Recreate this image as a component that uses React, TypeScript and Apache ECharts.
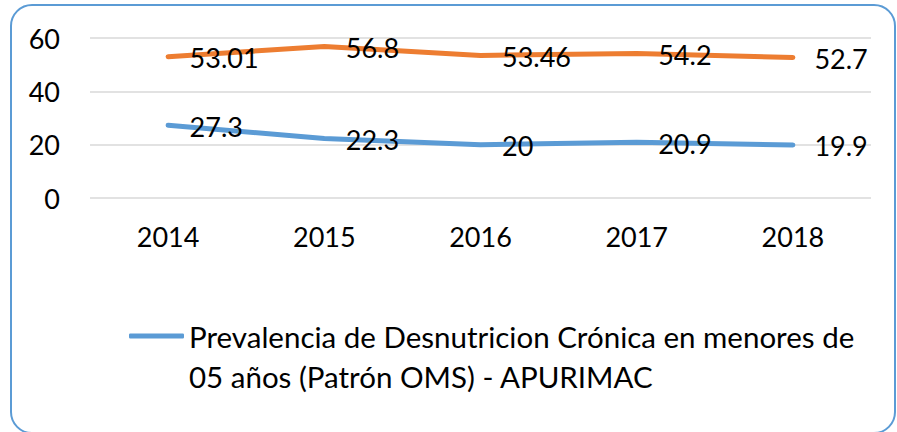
import React, { useEffect, useRef } from "react";
import * as echarts from "echarts";

const years = ["2014", "2015", "2016", "2017", "2018"];
const blueName = "Prevalencia de Desnutricion Crónica en menores de 05 años (Patrón OMS) - APURIMAC";
const blueValues = [27.3, 22.3, 20, 20.9, 19.9];
const orangeName = "Serie 2";
const orangeValues = [53.01, 56.8, 53.46, 54.2, 52.7];
const yTicks = { min: 0, max: 60, interval: 20 };

const FONT = "Lato";

export default function App() {
  const ref = useRef<HTMLDivElement>(null);
  useEffect(() => {
    if (!ref.current) return;
    const chart = echarts.init(ref.current, null, { renderer: "svg" });
    const labelStyle = {
      show: true,
      position: "right" as const,
      distance: 21,
      offset: [0, 1],
      fontFamily: FONT,
      fontSize: 27,
      color: "#000",
      formatter: (p: any) => String(p.value),
    };
    chart.setOption({
      animation: false,
      backgroundColor: "#fff",
      textStyle: { fontFamily: FONT },
      grid: { left: 90, right: 26, top: 38, bottom: 234 },
      xAxis: {
        type: "category",
        data: years,
        boundaryGap: true,
        axisLine: { show: false },
        axisTick: { show: false },
        axisLabel: { fontFamily: FONT, fontSize: 27, color: "#000", margin: 25 },
      },
      yAxis: {
        type: "value",
        min: yTicks.min,
        max: yTicks.max,
        interval: yTicks.interval,
        axisLine: { show: false },
        axisTick: { show: false },
        axisLabel: { fontFamily: FONT, fontSize: 27, color: "#000", margin: 30 },
        splitLine: { lineStyle: { color: "#D9D9D9", width: 1.5 } },
      },
      legend: {
        data: [blueName],
        left: 129,
        top: 276,
        padding: 0,
        icon: "roundRect",
        itemWidth: 55,
        itemHeight: 5,
        itemGap: 0,
        formatter: () =>
          " \nPrevalencia de Desnutricion Crónica en menores de\n05 años (Patrón OMS) - APURIMAC",
        textStyle: {
          fontFamily: FONT,
          fontSize: 29.5,
          color: "#000",
          lineHeight: 40,
        },
      },
      graphic: [
        {
          type: "rect",
          shape: { x: 11, y: 5, width: 884, height: 428, r: 21 },
          style: { fill: "none", stroke: "#5B9BD5", lineWidth: 2 },
          silent: true,
        },
      ],
      series: [
        {
          name: blueName,
          type: "line",
          data: blueValues,
          showSymbol: true,
          symbol: "circle",
          symbolSize: 1,
          lineStyle: { color: "#5B9BD5", width: 5, cap: "round", join: "round" },
          itemStyle: { color: "#5B9BD5" },
          label: labelStyle,
        },
        {
          name: orangeName,
          type: "line",
          data: orangeValues,
          showSymbol: true,
          symbol: "circle",
          symbolSize: 1,
          lineStyle: { color: "#ED7D31", width: 5, cap: "round", join: "round" },
          itemStyle: { color: "#ED7D31" },
          label: labelStyle,
        },
      ],
    });
    return () => chart.dispose();
  }, []);
  return (
    <div
      ref={ref}
      style={{ position: "fixed", left: 0, top: 0, width: 897, height: 432, background: "#fff" }}
    />
  );
}
